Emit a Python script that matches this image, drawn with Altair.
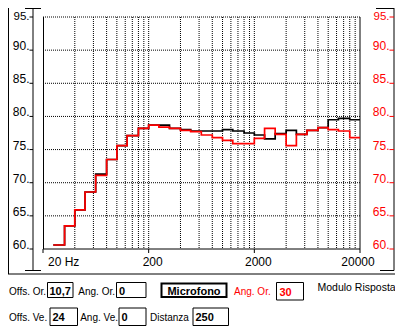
import altair as alt
import pandas as pd

# ---------------- data ----------------
band_hz = [25, 32, 40, 50, 63, 80, 100, 125, 160, 200, 250, 315, 400, 500, 630, 800,
           1000, 1250, 1600, 2000, 2500, 3150, 4000, 5000, 6300, 8000, 10000, 12500, 16000, 20000]
red_db = [60.6, 63.5, 65.9, 68.6, 71.1, 73.5, 75.6, 77.1, 78.2, 78.7, 78.4, 78.2, 77.9, 77.7, 77.2, 76.8,
          76.4, 75.9, 75.9, 76.7, 78.2, 77.3, 75.6, 77.3, 77.9, 78.3, 78.0, 77.8, 76.8, 76.8]
black_db = [60.6, 63.5, 65.9, 68.6, 71.3, 73.5, 75.6, 77.1, 78.2, 78.7, 78.7, 78.2, 78.0, 77.8, 77.8, 77.8,
            78.0, 77.8, 77.5, 77.2, 76.6, 77.4, 77.9, 77.3, 77.9, 78.3, 79.5, 79.7, 79.5, 79.5]

y_ticks = [60, 65, 70, 75, 80, 85, 90, 95]
y_grid = [65, 70, 75, 80, 85, 90, 95]
x_grid = [40, 60, 80, 100, 120, 140, 160, 180, 200,
          400, 600, 800, 1000, 1200, 1400, 1600, 1800, 2000,
          4000, 6000, 8000, 10000, 12000, 14000, 16000, 18000]
x_tick_hz = [20, 200, 2000, 20000]
x_tick_labels = ["20 Hz", "200", "2000", "20000"]

field_labels = ["Offs. Or.", "Ang. Or.", "Offs. Ve.", "Ang. Ve.", "Distanza"]
field_values = ["10,7", "0", "24", "0", "250"]
mic_label = "Microfono"
red_label = "Ang. Or."
red_value = "30"
title_text = "Modulo Risposta"

# ---------------- styling / layout ----------------
FONT = "Liberation Sans, Arial, sans-serif"
RED = "#ff0000"
W, H = 317, 232
XS = alt.Scale(type="log", domain=[20, 20000], nice=False)
YS = alt.Scale(domain=[60, 95], nice=False, zero=False)

curve = pd.DataFrame({"hz": band_hz, "red": red_db, "black": black_db})

vgrid = alt.Chart(pd.DataFrame({"hz": x_grid})).mark_rule(
    color="black", strokeDash=[1, 1], strokeWidth=1
).encode(x=alt.X("hz:Q", scale=XS, axis=None))

hgrid = alt.Chart(pd.DataFrame({"db": y_grid})).mark_rule(
    color="black", strokeDash=[1, 1], strokeWidth=1
).encode(y=alt.Y("db:Q", scale=YS, axis=None))

black_line = alt.Chart(curve).mark_line(
    interpolate="step-after", color="black", strokeWidth=1.7
).encode(x=alt.X("hz:Q", scale=XS, axis=None), y=alt.Y("black:Q", scale=YS, axis=None))

red_line = alt.Chart(curve).mark_line(
    interpolate="step-after", color=RED, strokeWidth=1.7
).encode(x=alt.X("hz:Q", scale=XS, axis=None), y=alt.Y("red:Q", scale=YS, axis=None))

ydf = pd.DataFrame({"db": y_ticks, "lab": [f"{v}." for v in y_ticks]})
ydf_low = ydf[ydf["db"] < 95]
ydf_top = ydf[ydf["db"] == 95]

left_ticks = alt.Chart(ydf).mark_rule(color="black").encode(
    y=alt.Y("db:Q", scale=YS, axis=None), x=alt.value(-13.5), x2=alt.value(-10))
right_ticks = alt.Chart(ydf).mark_rule(color=RED).encode(
    y=alt.Y("db:Q", scale=YS, axis=None), x=alt.value(346.5), x2=alt.value(351))


def ylabels(df, xpos, color, size=12, dy=0):
    return alt.Chart(df).mark_text(
        align="right", baseline="alphabetic", font=FONT, fontSize=size, color=color, dy=dy
    ).encode(y=alt.Y("db:Q", scale=YS, axis=None), x=alt.value(xpos), text="lab:N")


left_labels = ylabels(ydf_low, -13.5, "black")
left_top = ylabels(ydf_top, -13.5, "black", size=11.5, dy=2.5)
right_labels = ylabels(ydf_low, 346.5, RED)
right_top = ylabels(ydf_top, 346.5, RED, size=11.5, dy=2.5)

xdf = pd.DataFrame({"hz": x_tick_hz, "lab": x_tick_labels})
x_ticks = alt.Chart(xdf).mark_rule(color="black").encode(
    x=alt.X("hz:Q", scale=XS, axis=None), y=alt.value(232), y2=alt.value(236))
x_lab_first = alt.Chart(xdf.iloc[:1]).mark_text(
    align="left", dx=5, baseline="alphabetic", font=FONT, fontSize=12, color="black"
).encode(x=alt.X("hz:Q", scale=XS, axis=None), y=alt.value(248.5), text="lab:N")
x_lab_mid = alt.Chart(xdf.iloc[1:3]).mark_text(
    align="center", dx=4, baseline="alphabetic", font=FONT, fontSize=12, color="black"
).encode(x=alt.X("hz:Q", scale=XS, axis=None), y=alt.value(248.5), text="lab:N")
x_lab_last = alt.Chart(xdf.iloc[3:]).mark_text(
    align="center", dx=-2, baseline="alphabetic", font=FONT, fontSize=12, color="black"
).encode(x=alt.X("hz:Q", scale=XS, axis=None), y=alt.value(248.5), text="lab:N")

# decorative frame lines (pixel layout, relative to plot origin)
frame = pd.DataFrame({
    "x":  [0.5, 317, 0, -10, -18, -18, 351, 333, 337, -34.5, -35, 355.5],
    "x2": [0.5, 317, 317, -10, -2, -2, 351, 351, 351, -34.5, 356, 355.5],
    "y":  [0, 0, 232, -9, -8.5, 253.5, -9, -8.5, 253.5, -9, 257, -9],
    "y2": [232, 232, 232, 253.5, -8.5, 253.5, 253.5, -8.5, 253.5, 257, 257, 257],
})
frame_rules = alt.Chart(frame).mark_rule(color="black", strokeWidth=1).encode(
    x=alt.X("x:Q", scale=None, axis=None), x2="x2:Q",
    y=alt.Y("y:Q", scale=None, axis=None), y2="y2:Q")

# bottom control panel layout
boxes = pd.DataFrame({
    "x":  [4.5, 73.5, 233.5, 7, 76, 150],
    "x2": [30, 103, 260.5, 34.5, 103, 185.5],
    "y":  [265.5, 265.5, 265.5, 291, 291, 291],
    "y2": [280.5, 280.5, 283, 308.5, 308.5, 308.5],
})
box_marks = alt.Chart(boxes).mark_rect(fill="white", stroke="black", strokeWidth=1).encode(
    x=alt.X("x:Q", scale=None, axis=None), x2="x2:Q",
    y=alt.Y("y:Q", scale=None, axis=None), y2="y2:Q")
mic_box = alt.Chart(pd.DataFrame({"x": [118.5], "x2": [183.5], "y": [266.5], "y2": [280]})).mark_rect(
    fill="white", stroke="black", strokeWidth=2).encode(
    x=alt.X("x:Q", scale=None, axis=None), x2="x2:Q",
    y=alt.Y("y:Q", scale=None, axis=None), y2="y2:Q")

lab_left_first = pd.DataFrame({"x": [-34, -34], "y": [277.5, 304],
                               "t": [field_labels[0], field_labels[2]]})
lab_right = pd.DataFrame({"x": [72, 75], "y": [277.5, 304],
                          "t": [field_labels[1], field_labels[3]]})
lab_left = pd.DataFrame({"x": [107], "y": [304], "t": [field_labels[4]]})
val_bold = pd.DataFrame({"x": [6.5, 76, 9.5, 78.5, 152.5], "y": [277.5, 277.5, 304, 304, 304],
                         "t": field_values})


def txt(df, align, weight="normal", color="black", size=10):
    return alt.Chart(df).mark_text(
        align=align, baseline="alphabetic", font=FONT, fontSize=size, fontWeight=weight, color=color
    ).encode(x=alt.X("x:Q", scale=None, axis=None), y=alt.Y("y:Q", scale=None, axis=None), text="t:N")


t0 = txt(lab_left_first, "left")
t1 = txt(lab_right, "right")
t2 = txt(lab_left, "left")
t3 = txt(val_bold, "left", "bold", size=11)
t4 = txt(pd.DataFrame({"x": [151], "y": [277.5], "t": [mic_label]}), "center", "bold", size=11)
t5 = txt(pd.DataFrame({"x": [191], "y": [277.5], "t": [red_label]}), "left", color=RED)
t6 = txt(pd.DataFrame({"x": [236.5], "y": [278.5], "t": [red_value]}), "left", "bold", RED, size=11)
t7 = txt(pd.DataFrame({"x": [274.5], "y": [273.5], "t": [title_text]}), "left", size=10.5)

chart = alt.layer(
    vgrid, hgrid, frame_rules, black_line, red_line,
    left_ticks, left_labels, left_top, right_ticks, right_labels, right_top,
    x_ticks, x_lab_first, x_lab_mid, x_lab_last,
    box_marks, mic_box, t0, t1, t2, t3, t4, t5, t6, t7,
).properties(
    width=W, height=H,
    padding={"left": 35, "top": 9, "right": 35, "bottom": 85},
    autosize="none",
    background="white",
).configure_view(stroke=None)

chart.save("out.html", embed_options={"renderer": "svg", "actions": False})
